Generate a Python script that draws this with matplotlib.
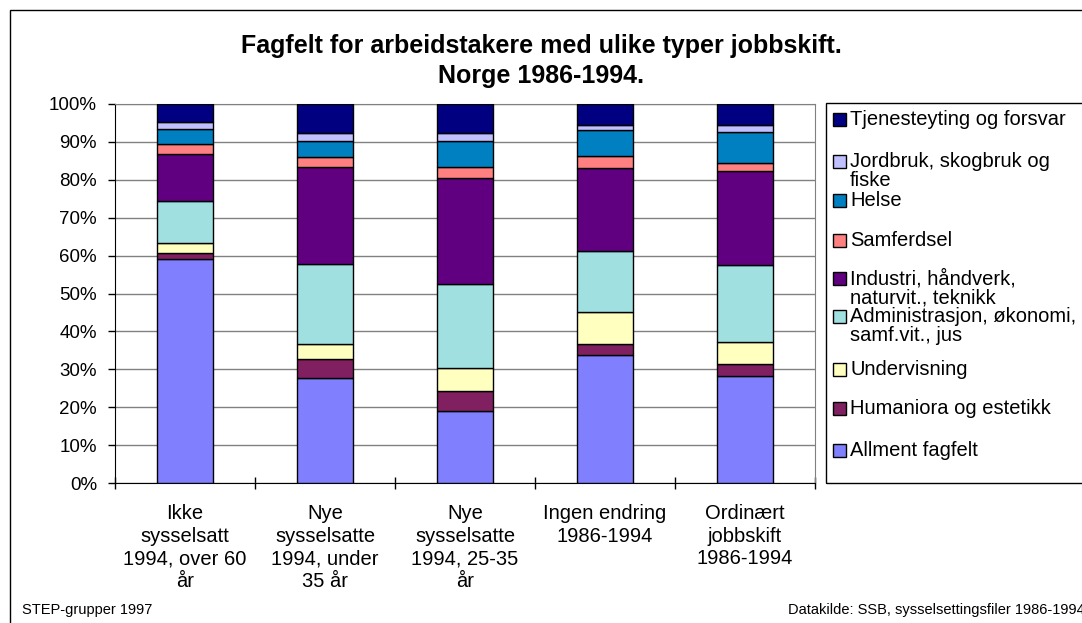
import matplotlib
matplotlib.use('Agg')
import matplotlib.pyplot as plt
from matplotlib.patches import Rectangle
import numpy as np

plt.rcParams['font.family'] = ['Liberation Sans', 'DejaVu Sans']

categories = ['Ikke\nsysselsatt\n1994, over 60\når',
              'Nye\nsysselsatte\n1994, under\n35 år',
              'Nye\nsysselsatte\n1994, 25-35\når',
              'Ingen endring\n1986-1994',
              'Ordinært\njobbskift\n1986-1994']

# percent shares, bottom to top
allment = [59.2, 27.6, 19.1, 33.7, 28.2]
humaniora = [1.4, 5.1, 5.2, 3.0, 3.3]
undervisning = [2.8, 4.1, 6.0, 8.3, 5.8]
administrasjon = [10.9, 20.9, 22.2, 16.2, 20.3]
industri = [12.5, 25.6, 27.9, 21.9, 24.8]
samferdsel = [2.7, 2.6, 2.9, 3.2, 2.0]
helse = [3.8, 4.4, 6.9, 6.8, 8.3]
jordbruk = [2.0, 2.0, 2.1, 1.4, 1.7]
tjenesteyting = [4.7, 7.7, 7.7, 5.5, 5.6]

series = [allment, humaniora, undervisning, administrasjon, industri,
          samferdsel, helse, jordbruk, tjenesteyting]
labels = ['Allment fagfelt', 'Humaniora og estetikk', 'Undervisning',
          'Administrasjon, økonomi,\nsamf.vit., jus',
          'Industri, håndverk,\nnaturvit., teknikk',
          'Samferdsel', 'Helse', 'Jordbruk, skogbruk og\nfiske',
          'Tjenesteyting og forsvar']
colors = ['#8080FF', '#802060', '#FFFFC0', '#A0E0E0', '#600080',
          '#FF8080', '#0080C0', '#C0C0FF', '#000080']

W, H = 1082, 623
fig = plt.figure(figsize=(W / 100, H / 100), dpi=100)

def fx(px):
    return px / W

def fy(py):
    return 1 - py / H

# outer chart frame
fig.patches.append(Rectangle((fx(10), -0.1), 1.2, fy(10) + 0.1, transform=fig.transFigure,
                             fill=False, edgecolor='black', linewidth=1))

ax = fig.add_axes([fx(115), fy(483), fx(815) - fx(115), fy(104) - fy(483)])

x = np.arange(len(categories))
bottom = np.zeros(len(categories))
for vals, col in zip(series, colors):
    ax.bar(x, vals, width=0.4, bottom=bottom, color=col, edgecolor='black',
           linewidth=1, zorder=3)
    bottom += np.array(vals)

ax.set_xlim(-0.5, len(categories) - 0.5)
ax.set_ylim(0, 100)
ax.set_yticks(np.arange(0, 101, 10))
ax.set_yticklabels([f'{v}%' for v in range(0, 101, 10)], fontsize=13.5)
ax.yaxis.grid(True, color='#808080', linewidth=1, zorder=0)
ax.tick_params(axis='y', direction='out', length=5, width=1, pad=8)

ax.set_xticks(x)
ax.set_xticklabels(categories, fontsize=14.5, linespacing=1.25)
ax.tick_params(axis='x', which='major', length=0, pad=15)
ax.set_xticks(np.arange(-0.5, len(categories), 1), minor=True)
ax.tick_params(axis='x', which='minor', direction='inout', length=8, width=1)

for s in ['top', 'right']:
    ax.spines[s].set_color('#808080')
ax.spines['left'].set_color('black')
ax.spines['bottom'].set_color('black')

fig.text(fx(541), fy(46), 'Fagfelt for arbeidstakere med ulike typer jobbskift.',
         ha='center', va='center', fontsize=18, fontweight='bold')
fig.text(fx(541), fy(76), 'Norge 1986-1994.', ha='center', va='center',
         fontsize=18, fontweight='bold')

# legend box, drawn Excel-style (top entry first)
fig.patches.append(Rectangle((fx(826), fy(483)), 1.0, fy(103) - fy(483),
                             transform=fig.transFigure, fill=False,
                             edgecolor='black', linewidth=1))
legend_y = [450, 408, 369, 316, 278, 240, 200, 161, 119]
for lab, col, ly in zip(labels, colors, legend_y):
    fig.patches.append(Rectangle((fx(833), fy(ly + 7)), fx(13), fy(ly - 6) - fy(ly + 7),
                                 transform=fig.transFigure, facecolor=col,
                                 edgecolor='black', linewidth=1))
    fig.text(fx(850), fy(ly - 9), lab, ha='left', va='top', fontsize=14.5,
             linespacing=1.0)

fig.text(fx(22), fy(610), 'STEP-grupper 1997', ha='left', va='center', fontsize=10.5)
# runs past the right edge, as in the original export
fig.text(fx(788), fy(610), 'Datakilde: SSB, sysselsettingsfiler 1986-1994',
         ha='left', va='center', fontsize=10.5)

fig.savefig('out.png', dpi=100)
